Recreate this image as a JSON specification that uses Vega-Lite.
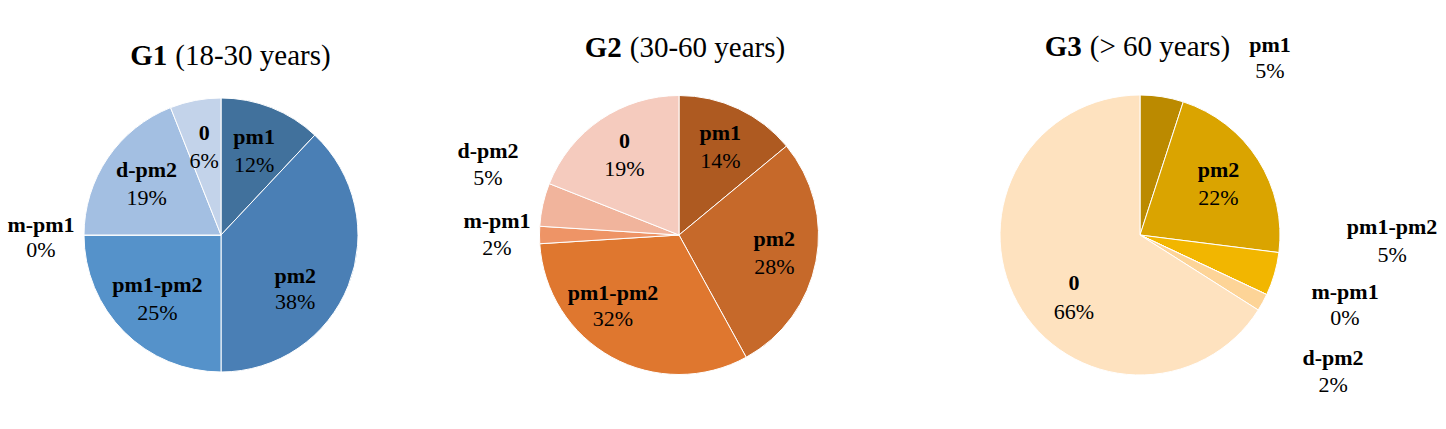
{
  "$schema": "https://vega.github.io/schema/vega-lite/v6.json",
  "padding": {"left": 6, "top": 33, "right": 0, "bottom": 0},
  "background": "white",
  "bounds": "flush",
  "spacing": 28,
  "config": {
    "view": {"stroke": null},
    "text": {"font": "Liberation Serif", "color": "#000000"}
  },
  "data": {
    "values": [
      {"group": "G1", "ages": "(18-30 years)", "k": 1, "cat": "pm1", "share": 0.12},
      {"group": "G1", "ages": "(18-30 years)", "k": 2, "cat": "pm2", "share": 0.38},
      {"group": "G1", "ages": "(18-30 years)", "k": 3, "cat": "pm1-pm2", "share": 0.25},
      {"group": "G1", "ages": "(18-30 years)", "k": 4, "cat": "m-pm1", "share": 0},
      {"group": "G1", "ages": "(18-30 years)", "k": 5, "cat": "d-pm2", "share": 0.19},
      {"group": "G1", "ages": "(18-30 years)", "k": 6, "cat": "0", "share": 0.06},
      {"group": "G2", "ages": "(30-60 years)", "k": 1, "cat": "pm1", "share": 0.14},
      {"group": "G2", "ages": "(30-60 years)", "k": 2, "cat": "pm2", "share": 0.28},
      {"group": "G2", "ages": "(30-60 years)", "k": 3, "cat": "pm1-pm2", "share": 0.32},
      {"group": "G2", "ages": "(30-60 years)", "k": 4, "cat": "m-pm1", "share": 0.02},
      {"group": "G2", "ages": "(30-60 years)", "k": 5, "cat": "d-pm2", "share": 0.05},
      {"group": "G2", "ages": "(30-60 years)", "k": 6, "cat": "0", "share": 0.19},
      {"group": "G3", "ages": "(> 60 years)", "k": 1, "cat": "pm1", "share": 0.05},
      {"group": "G3", "ages": "(> 60 years)", "k": 2, "cat": "pm2", "share": 0.22},
      {"group": "G3", "ages": "(> 60 years)", "k": 3, "cat": "pm1-pm2", "share": 0.05},
      {"group": "G3", "ages": "(> 60 years)", "k": 4, "cat": "m-pm1", "share": 0},
      {"group": "G3", "ages": "(> 60 years)", "k": 5, "cat": "d-pm2", "share": 0.02},
      {"group": "G3", "ages": "(> 60 years)", "k": 6, "cat": "0", "share": 0.66}
    ]
  },
  "resolve": {"scale": {"color": "independent", "theta": "independent"}},
  "hconcat": [
    {
      "width": 430,
      "height": 388,
      "transform": [{"filter": "datum.group == 'G1'"}],
      "layer": [
        {
          "mark": {"type": "arc", "outerRadius": 137, "stroke": "white", "strokeWidth": 1},
          "encoding": {
            "theta": {"field": "share", "type": "quantitative", "stack": true},
            "order": {"field": "k", "type": "quantitative"},
            "color": {
              "field": "cat", "type": "nominal", "legend": null,
              "scale": {
                "domain": ["pm1", "pm2", "pm1-pm2", "m-pm1", "d-pm2", "0"],
                "range": ["#41719C", "#4A7FB5", "#5592CA", "#7EA6D6", "#A3BFE2", "#C3D3EA"]
              }
            }
          }
        },
        {
          "transform": [{"aggregate": [{"op": "count", "as": "n"}], "groupby": ["group", "ages"]}],
          "mark": {"type": "text", "fontSize": 29, "fontWeight": "bold", "align": "right", "baseline": "alphabetic", "dx": -53.7, "dy": -170},
          "encoding": {"text": {"field": "group", "type": "nominal"}}
        },
        {
          "transform": [{"aggregate": [{"op": "count", "as": "n"}], "groupby": ["group", "ages"]}],
          "mark": {"type": "text", "fontSize": 29, "align": "left", "baseline": "alphabetic", "dx": -45.7, "dy": -170},
          "encoding": {"text": {"field": "ages", "type": "nominal"}}
        },
        {
          "mark": {"type": "text", "radius": 90, "fontSize": 22, "fontWeight": "bold", "baseline": "middle", "dy": -14},
          "encoding": {
            "theta": {"field": "share", "type": "quantitative", "stack": true},
            "order": {"field": "k", "type": "quantitative"},
            "detail": {"field": "cat", "type": "nominal"},
            "text": {"field": "cat", "type": "nominal"},
            "opacity": {"condition": {"test": "indexof(['pm1','pm1-pm2','d-pm2','0'], datum.cat) >= 0", "value": 1}, "value": 0}
          }
        },
        {
          "mark": {"type": "text", "radius": 90, "fontSize": 22, "baseline": "middle", "dy": 14},
          "encoding": {
            "theta": {"field": "share", "type": "quantitative", "stack": true},
            "order": {"field": "k", "type": "quantitative"},
            "detail": {"field": "cat", "type": "nominal"},
            "text": {"field": "share", "type": "quantitative", "format": ".0%"},
            "opacity": {"condition": {"test": "indexof(['pm1','pm1-pm2','d-pm2','0'], datum.cat) >= 0", "value": 1}, "value": 0}
          }
        },
        {
          "mark": {"type": "text", "radius": 89, "fontSize": 22, "fontWeight": "bold", "baseline": "middle", "dx": -8.5, "dy": 8.4},
          "encoding": {
            "theta": {"field": "share", "type": "quantitative", "stack": true},
            "order": {"field": "k", "type": "quantitative"},
            "detail": {"field": "cat", "type": "nominal"},
            "text": {"field": "cat", "type": "nominal"},
            "opacity": {"condition": {"test": "datum.cat == 'pm2'", "value": 1}, "value": 0}
          }
        },
        {
          "mark": {"type": "text", "radius": 89, "fontSize": 22, "baseline": "middle", "dx": -8.5, "dy": 34.4},
          "encoding": {
            "theta": {"field": "share", "type": "quantitative", "stack": true},
            "order": {"field": "k", "type": "quantitative"},
            "detail": {"field": "cat", "type": "nominal"},
            "text": {"field": "share", "type": "quantitative", "format": ".0%"},
            "opacity": {"condition": {"test": "datum.cat == 'pm2'", "value": 1}, "value": 0}
          }
        },
        {
          "mark": {"type": "text", "radius": 180, "fontSize": 22, "fontWeight": "bold", "baseline": "middle", "dy": -10},
          "encoding": {
            "theta": {"field": "share", "type": "quantitative", "stack": true},
            "order": {"field": "k", "type": "quantitative"},
            "detail": {"field": "cat", "type": "nominal"},
            "text": {"field": "cat", "type": "nominal"},
            "opacity": {"condition": {"test": "datum.cat == 'm-pm1'", "value": 1}, "value": 0}
          }
        },
        {
          "mark": {"type": "text", "radius": 180, "fontSize": 22, "baseline": "middle", "dy": 15},
          "encoding": {
            "theta": {"field": "share", "type": "quantitative", "stack": true},
            "order": {"field": "k", "type": "quantitative"},
            "detail": {"field": "cat", "type": "nominal"},
            "text": {"field": "share", "type": "quantitative", "format": ".0%"},
            "opacity": {"condition": {"test": "datum.cat == 'm-pm1'", "value": 1}, "value": 0}
          }
        }
      ]
    },
    {
      "width": 430,
      "height": 388,
      "transform": [{"filter": "datum.group == 'G2'"}],
      "layer": [
        {
          "mark": {"type": "arc", "outerRadius": 139.5, "stroke": "white", "strokeWidth": 1},
          "encoding": {
            "theta": {"field": "share", "type": "quantitative", "stack": true},
            "order": {"field": "k", "type": "quantitative"},
            "color": {
              "field": "cat", "type": "nominal", "legend": null,
              "scale": {
                "domain": ["pm1", "pm2", "pm1-pm2", "m-pm1", "d-pm2", "0"],
                "range": ["#AE5A21", "#C6692A", "#DF772F", "#EE9466", "#F1B49C", "#F5CBBE"]
              }
            }
          }
        },
        {
          "transform": [{"aggregate": [{"op": "count", "as": "n"}], "groupby": ["group", "ages"]}],
          "mark": {"type": "text", "fontSize": 29, "fontWeight": "bold", "align": "right", "baseline": "alphabetic", "dx": -57.2, "dy": -178},
          "encoding": {"text": {"field": "group", "type": "nominal"}}
        },
        {
          "transform": [{"aggregate": [{"op": "count", "as": "n"}], "groupby": ["group", "ages"]}],
          "mark": {"type": "text", "fontSize": 29, "align": "left", "baseline": "alphabetic", "dx": -49.2, "dy": -178},
          "encoding": {"text": {"field": "ages", "type": "nominal"}}
        },
        {
          "mark": {"type": "text", "radius": 97, "fontSize": 22, "fontWeight": "bold", "baseline": "middle", "dy": -14},
          "encoding": {
            "theta": {"field": "share", "type": "quantitative", "stack": true},
            "order": {"field": "k", "type": "quantitative"},
            "detail": {"field": "cat", "type": "nominal"},
            "text": {"field": "cat", "type": "nominal"},
            "opacity": {"condition": {"test": "indexof(['pm1','pm2','0'], datum.cat) >= 0", "value": 1}, "value": 0}
          }
        },
        {
          "mark": {"type": "text", "radius": 97, "fontSize": 22, "baseline": "middle", "dy": 14},
          "encoding": {
            "theta": {"field": "share", "type": "quantitative", "stack": true},
            "order": {"field": "k", "type": "quantitative"},
            "detail": {"field": "cat", "type": "nominal"},
            "text": {"field": "share", "type": "quantitative", "format": ".0%"},
            "opacity": {"condition": {"test": "indexof(['pm1','pm2','0'], datum.cat) >= 0", "value": 1}, "value": 0}
          }
        },
        {
          "mark": {"type": "text", "radius": 94, "fontSize": 22, "fontWeight": "bold", "baseline": "middle", "dx": -20.7, "dy": -24.3},
          "encoding": {
            "theta": {"field": "share", "type": "quantitative", "stack": true},
            "order": {"field": "k", "type": "quantitative"},
            "detail": {"field": "cat", "type": "nominal"},
            "text": {"field": "cat", "type": "nominal"},
            "opacity": {"condition": {"test": "datum.cat == 'pm1-pm2'", "value": 1}, "value": 0}
          }
        },
        {
          "mark": {"type": "text", "radius": 94, "fontSize": 22, "baseline": "middle", "dx": -20.7, "dy": 1.7},
          "encoding": {
            "theta": {"field": "share", "type": "quantitative", "stack": true},
            "order": {"field": "k", "type": "quantitative"},
            "detail": {"field": "cat", "type": "nominal"},
            "text": {"field": "share", "type": "quantitative", "format": ".0%"},
            "opacity": {"condition": {"test": "datum.cat == 'pm1-pm2'", "value": 1}, "value": 0}
          }
        },
        {
          "mark": {"type": "text", "radius": 150, "fontSize": 22, "fontWeight": "bold", "baseline": "middle", "dx": -44.6, "dy": -51.3},
          "encoding": {
            "theta": {"field": "share", "type": "quantitative", "stack": true},
            "order": {"field": "k", "type": "quantitative"},
            "detail": {"field": "cat", "type": "nominal"},
            "text": {"field": "cat", "type": "nominal"},
            "opacity": {"condition": {"test": "datum.cat == 'd-pm2'", "value": 1}, "value": 0}
          }
        },
        {
          "mark": {"type": "text", "radius": 150, "fontSize": 22, "baseline": "middle", "dx": -44.6, "dy": -24.3},
          "encoding": {
            "theta": {"field": "share", "type": "quantitative", "stack": true},
            "order": {"field": "k", "type": "quantitative"},
            "detail": {"field": "cat", "type": "nominal"},
            "text": {"field": "share", "type": "quantitative", "format": ".0%"},
            "opacity": {"condition": {"test": "datum.cat == 'd-pm2'", "value": 1}, "value": 0}
          }
        },
        {
          "mark": {"type": "text", "radius": 182, "fontSize": 22, "fontWeight": "bold", "baseline": "middle", "dy": -14},
          "encoding": {
            "theta": {"field": "share", "type": "quantitative", "stack": true},
            "order": {"field": "k", "type": "quantitative"},
            "detail": {"field": "cat", "type": "nominal"},
            "text": {"field": "cat", "type": "nominal"},
            "opacity": {"condition": {"test": "datum.cat == 'm-pm1'", "value": 1}, "value": 0}
          }
        },
        {
          "mark": {"type": "text", "radius": 182, "fontSize": 22, "baseline": "middle", "dy": 13},
          "encoding": {
            "theta": {"field": "share", "type": "quantitative", "stack": true},
            "order": {"field": "k", "type": "quantitative"},
            "detail": {"field": "cat", "type": "nominal"},
            "text": {"field": "share", "type": "quantitative", "format": ".0%"},
            "opacity": {"condition": {"test": "datum.cat == 'm-pm1'", "value": 1}, "value": 0}
          }
        }
      ]
    },
    {
      "width": 436,
      "height": 388,
      "transform": [{"filter": "datum.group == 'G3'"}],
      "layer": [
        {
          "mark": {"type": "arc", "outerRadius": 140, "stroke": "white", "strokeWidth": 1},
          "encoding": {
            "theta": {"field": "share", "type": "quantitative", "stack": true},
            "order": {"field": "k", "type": "quantitative"},
            "color": {
              "field": "cat", "type": "nominal", "legend": null,
              "scale": {
                "domain": ["pm1", "pm2", "pm1-pm2", "m-pm1", "d-pm2", "0"],
                "range": ["#BB8A00", "#DAA400", "#F2B600", "#F9CB62", "#FDD497", "#FEE2BF"]
              }
            }
          }
        },
        {
          "transform": [{"aggregate": [{"op": "count", "as": "n"}], "groupby": ["group", "ages"]}],
          "mark": {"type": "text", "fontSize": 29, "fontWeight": "bold", "align": "right", "baseline": "alphabetic", "dx": -58.2, "dy": -179},
          "encoding": {"text": {"field": "group", "type": "nominal"}}
        },
        {
          "transform": [{"aggregate": [{"op": "count", "as": "n"}], "groupby": ["group", "ages"]}],
          "mark": {"type": "text", "fontSize": 29, "align": "left", "baseline": "alphabetic", "dx": -50.2, "dy": -179},
          "encoding": {"text": {"field": "ages", "type": "nominal"}}
        },
        {
          "mark": {"type": "text", "radius": 93, "fontSize": 22, "fontWeight": "bold", "baseline": "middle", "dy": -15},
          "encoding": {
            "theta": {"field": "share", "type": "quantitative", "stack": true},
            "order": {"field": "k", "type": "quantitative"},
            "detail": {"field": "cat", "type": "nominal"},
            "text": {"field": "cat", "type": "nominal"},
            "opacity": {"condition": {"test": "datum.cat == 'pm2'", "value": 1}, "value": 0}
          }
        },
        {
          "mark": {"type": "text", "radius": 93, "fontSize": 22, "baseline": "middle", "dy": 13},
          "encoding": {
            "theta": {"field": "share", "type": "quantitative", "stack": true},
            "order": {"field": "k", "type": "quantitative"},
            "detail": {"field": "cat", "type": "nominal"},
            "text": {"field": "share", "type": "quantitative", "format": ".0%"},
            "opacity": {"condition": {"test": "datum.cat == 'pm2'", "value": 1}, "value": 0}
          }
        },
        {
          "mark": {"type": "text", "radius": 88, "fontSize": 22, "fontWeight": "bold", "baseline": "middle", "dx": 11.1, "dy": 5.6},
          "encoding": {
            "theta": {"field": "share", "type": "quantitative", "stack": true},
            "order": {"field": "k", "type": "quantitative"},
            "detail": {"field": "cat", "type": "nominal"},
            "text": {"field": "cat", "type": "nominal"},
            "opacity": {"condition": {"test": "datum.cat == '0'", "value": 1}, "value": 0}
          }
        },
        {
          "mark": {"type": "text", "radius": 88, "fontSize": 22, "baseline": "middle", "dx": 11.1, "dy": 34.6},
          "encoding": {
            "theta": {"field": "share", "type": "quantitative", "stack": true},
            "order": {"field": "k", "type": "quantitative"},
            "detail": {"field": "cat", "type": "nominal"},
            "text": {"field": "share", "type": "quantitative", "format": ".0%"},
            "opacity": {"condition": {"test": "datum.cat == '0'", "value": 1}, "value": 0}
          }
        },
        {
          "mark": {"type": "text", "radius": 150, "fontSize": 22, "fontWeight": "bold", "baseline": "middle", "dx": 106.5, "dy": -41.8},
          "encoding": {
            "theta": {"field": "share", "type": "quantitative", "stack": true},
            "order": {"field": "k", "type": "quantitative"},
            "detail": {"field": "cat", "type": "nominal"},
            "text": {"field": "cat", "type": "nominal"},
            "opacity": {"condition": {"test": "datum.cat == 'pm1'", "value": 1}, "value": 0}
          }
        },
        {
          "mark": {"type": "text", "radius": 150, "fontSize": 22, "baseline": "middle", "dx": 106.5, "dy": -15.8},
          "encoding": {
            "theta": {"field": "share", "type": "quantitative", "stack": true},
            "order": {"field": "k", "type": "quantitative"},
            "detail": {"field": "cat", "type": "nominal"},
            "text": {"field": "share", "type": "quantitative", "format": ".0%"},
            "opacity": {"condition": {"test": "datum.cat == 'pm1'", "value": 1}, "value": 0}
          }
        },
        {
          "mark": {"type": "text", "radius": 140, "fontSize": 22, "fontWeight": "bold", "baseline": "middle", "dx": 117.6, "dy": -47.1},
          "encoding": {
            "theta": {"field": "share", "type": "quantitative", "stack": true},
            "order": {"field": "k", "type": "quantitative"},
            "detail": {"field": "cat", "type": "nominal"},
            "text": {"field": "cat", "type": "nominal"},
            "opacity": {"condition": {"test": "datum.cat == 'pm1-pm2'", "value": 1}, "value": 0}
          }
        },
        {
          "mark": {"type": "text", "radius": 140, "fontSize": 22, "baseline": "middle", "dx": 117.6, "dy": -19.1},
          "encoding": {
            "theta": {"field": "share", "type": "quantitative", "stack": true},
            "order": {"field": "k", "type": "quantitative"},
            "detail": {"field": "cat", "type": "nominal"},
            "text": {"field": "share", "type": "quantitative", "format": ".0%"},
            "opacity": {"condition": {"test": "datum.cat == 'pm1-pm2'", "value": 1}, "value": 0}
          }
        },
        {
          "mark": {"type": "text", "radius": 150, "fontSize": 22, "fontWeight": "bold", "baseline": "middle", "dx": 69.3, "dy": -6.9},
          "encoding": {
            "theta": {"field": "share", "type": "quantitative", "stack": true},
            "order": {"field": "k", "type": "quantitative"},
            "detail": {"field": "cat", "type": "nominal"},
            "text": {"field": "cat", "type": "nominal"},
            "opacity": {"condition": {"test": "datum.cat == 'm-pm1'", "value": 1}, "value": 0}
          }
        },
        {
          "mark": {"type": "text", "radius": 150, "fontSize": 22, "baseline": "middle", "dx": 69.3, "dy": 19.1},
          "encoding": {
            "theta": {"field": "share", "type": "quantitative", "stack": true},
            "order": {"field": "k", "type": "quantitative"},
            "detail": {"field": "cat", "type": "nominal"},
            "text": {"field": "share", "type": "quantitative", "format": ".0%"},
            "opacity": {"condition": {"test": "datum.cat == 'm-pm1'", "value": 1}, "value": 0}
          }
        },
        {
          "mark": {"type": "text", "radius": 150, "fontSize": 22, "fontWeight": "bold", "baseline": "middle", "dx": 61.6, "dy": 50.7},
          "encoding": {
            "theta": {"field": "share", "type": "quantitative", "stack": true},
            "order": {"field": "k", "type": "quantitative"},
            "detail": {"field": "cat", "type": "nominal"},
            "text": {"field": "cat", "type": "nominal"},
            "opacity": {"condition": {"test": "datum.cat == 'd-pm2'", "value": 1}, "value": 0}
          }
        },
        {
          "mark": {"type": "text", "radius": 150, "fontSize": 22, "baseline": "middle", "dx": 61.6, "dy": 77.7},
          "encoding": {
            "theta": {"field": "share", "type": "quantitative", "stack": true},
            "order": {"field": "k", "type": "quantitative"},
            "detail": {"field": "cat", "type": "nominal"},
            "text": {"field": "share", "type": "quantitative", "format": ".0%"},
            "opacity": {"condition": {"test": "datum.cat == 'd-pm2'", "value": 1}, "value": 0}
          }
        }
      ]
    }
  ]
}
